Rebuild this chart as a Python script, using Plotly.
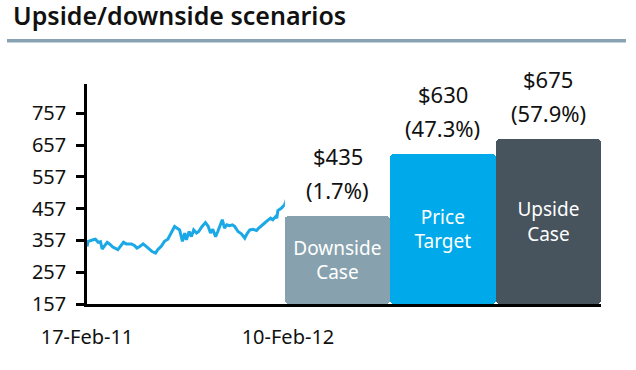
import plotly.graph_objects as go

# ---- data ----
price_dates = [
    "2011-02-17", "2011-02-19", "2011-02-28", "2011-03-04", "2011-03-09", "2011-03-13",
    "2011-03-16", "2011-03-20", "2011-03-25", "2011-03-29", "2011-04-04", "2011-04-13",
    "2011-04-19", "2011-04-23", "2011-04-28", "2011-05-07", "2011-05-13", "2011-05-17",
    "2011-05-22", "2011-05-28", "2011-06-04", "2011-06-09", "2011-06-13", "2011-06-19",
    "2011-06-23", "2011-06-29", "2011-07-05", "2011-07-11", "2011-07-17", "2011-07-23",
    "2011-07-27", "2011-08-01", "2011-08-06", "2011-08-10", "2011-08-13", "2011-08-18",
    "2011-08-22", "2011-08-26", "2011-08-31", "2011-09-04", "2011-09-10", "2011-09-16",
    "2011-09-21", "2011-09-25", "2011-09-29", "2011-10-04", "2011-10-08", "2011-10-12",
    "2011-10-16", "2011-10-20", "2011-10-24", "2011-10-29", "2011-11-03", "2011-11-07",
    "2011-11-13", "2011-11-19", "2011-11-25", "2011-11-29", "2011-12-04", "2011-12-10",
    "2011-12-16", "2011-12-20", "2011-12-24", "2011-12-30", "2012-01-05", "2012-01-10",
    "2012-01-14", "2012-01-19", "2012-01-21", "2012-01-23", "2012-01-29", "2012-02-04",
    "2012-02-07", "2012-02-10",
]
price_values = [
    338, 354, 359, 361, 351, 353, 330, 338, 351, 346, 336, 328,
    343, 351, 346, 346, 340, 333, 338, 346, 336, 328, 322, 317,
    328, 338, 354, 361, 380, 401, 396, 390, 354, 380, 359, 385,
    369, 390, 380, 385, 401, 413, 401, 380, 392, 369, 385, 401,
    422, 396, 406, 403, 406, 401, 385, 378, 364, 378, 390, 392,
    388, 396, 401, 411, 420, 427, 422, 432, 427, 451, 458, 469,
    485, 495,
]

scenario_names = ["Downside<br>Case", "Price<br>Target", "Upside<br>Case"]
scenario_values = [435, 630, 675]
scenario_prices = ["$435", "$630", "$675"]
scenario_pcts = ["(1.7%)", "(47.3%)", "(57.9%)"]
scenario_colors = ["#87A2AE", "#00A9E9", "#47535D"]

y_ticks = [157, 257, 357, 457, 557, 657, 757]
date_ticks = ["2011-02-17", "2012-02-10"]
date_tick_text = ["17-Feb-11", "10-Feb-12"]

FONT = "Noto Sans"
Y_MIN = y_ticks[0]

fig = go.Figure()

fig.add_trace(go.Scatter(
    x=price_dates, y=price_values, mode="lines",
    line=dict(color="#1BA8E6", width=3),
    xaxis="x", yaxis="y", showlegend=False, hoverinfo="skip",
))

# bars start at the axis floor so their inside labels sit in the visible part
fig.add_trace(go.Bar(
    x=scenario_names, y=[v - Y_MIN for v in scenario_values], base=Y_MIN,
    marker=dict(color=scenario_colors, line=dict(width=0), cornerradius=4),
    text=scenario_names, textposition="inside", insidetextanchor="middle",
    textangle=0,
    textfont=dict(family=FONT, size=19, color="white"),
    xaxis="x2", yaxis="y", showlegend=False, hoverinfo="skip",
))

for name, val, price, pct in zip(scenario_names, scenario_values,
                                  scenario_prices, scenario_pcts):
    for txt, shift in ((pct, 26), (price, 60)):
        fig.add_annotation(
            x=name, y=val, xref="x2", yref="y", text=txt, showarrow=False,
            yanchor="middle", yshift=shift,
            font=dict(family=FONT, size=22, color="#111111"),
        )

fig.update_layout(
    width=636, height=370, autosize=False,
    margin=dict(l=87, r=35, t=84, b=66, autoexpand=False),
    paper_bgcolor="white", plot_bgcolor="white",
    bargap=0,
    font=dict(family=FONT, color="#111111"),
    title=dict(
        text="Upside/downside scenarios",
        font=dict(family=FONT, size=25, color="#111111", weight=600),
        x=13 / 636, xanchor="left", xref="container",
        y=1 - 16.7 / 370, yanchor="middle", yref="container",
    ),
    xaxis=dict(
        type="date", domain=[0, 0.391],
        range=["2011-02-17", "2012-02-10"],
        tickvals=date_ticks, ticktext=date_tick_text,
        ticks="", showgrid=False, zeroline=False, automargin=False,
        showline=True, linecolor="black", linewidth=2.5,
        tickfont=dict(family=FONT, size=20, color="#111111"),
        ticklabelstandoff=13, anchor="y",
    ),
    xaxis2=dict(
        domain=[0.385, 1], anchor="y", showticklabels=False, automargin=False,
        ticks="", showgrid=False, zeroline=False,
        showline=True, linecolor="black", linewidth=2.5,
    ),
    yaxis=dict(
        range=[Y_MIN, 849], tickvals=y_ticks, ticktext=[str(v) for v in y_ticks],
        ticks="outside", ticklen=8, tickwidth=2.5, tickcolor="black",
        showgrid=False, zeroline=False, automargin=False,
        showline=True, linecolor="black", linewidth=2.5,
        tickfont=dict(family=FONT, size=20, color="#111111"),
        ticklabelstandoff=6,
    ),
    shapes=[dict(
        type="line", xref="paper", yref="paper",
        x0=(7 - 87) / 514, x1=(626 - 87) / 514,
        y0=(304 - 40.7) / 220, y1=(304 - 40.7) / 220,
        line=dict(color="#87A3B3", width=3.5),
    )],
)

fig.write_html(
    "out.html",
    config={"displayModeBar": False},
    post_script="document.body.style.margin='0';document.body.style.overflow='hidden';",
)
